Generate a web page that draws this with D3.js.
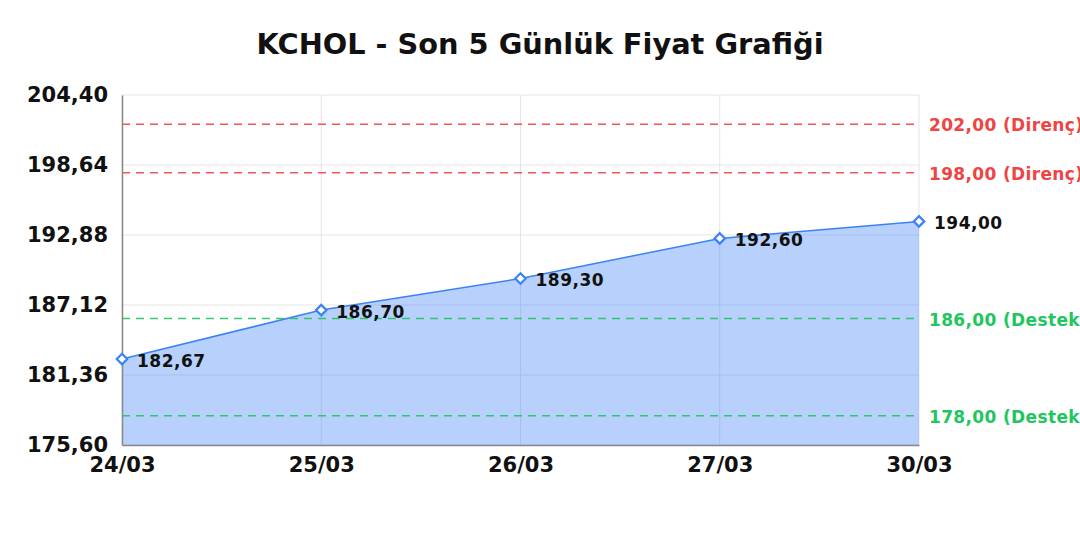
<!DOCTYPE html>
<html><head><meta charset="utf-8">
<script src="https://cdn.jsdelivr.net/npm/d3@7"></script>
<style>body{margin:0;background:#fff;}svg{display:block;font-family:"DejaVu Sans",sans-serif;}</style>
</head><body>
<svg id="c" width="1080" height="540"></svg>
<script>
const title = "KCHOL - Son 5 Günlük Fiyat Grafiği";
const dates = ["24/03","25/03","26/03","27/03","30/03"];
const prices = [182.67, 186.70, 189.30, 192.60, 194.00];
const yTicks = [175.60, 181.36, 187.12, 192.88, 198.64, 204.40];
const resistance = [202.00, 198.00];
const support = [186.00, 178.00];
const yDomain = [175.60, 204.40];

const svg = d3.select("#c");
const m = {l:122, r:919, t:95, b:445};
const x = d3.scalePoint().domain(dates).range([m.l, m.r]);
const y = d3.scaleLinear().domain(yDomain).range([m.b, m.t]);
const fmt = v => v.toFixed(2).replace(".", ",");

svg.append("text").attr("x",540).attr("y",54).attr("text-anchor","middle")
  .attr("font-size",28.8).attr("font-weight","bold").attr("fill","#111").text(title);

// grid
const g = svg.append("g");
g.selectAll(".hg").data(yTicks).join("line")
  .attr("x1",m.l).attr("x2",m.r).attr("y1",d=>y(d)).attr("y2",d=>y(d))
  .attr("stroke","#e5e5e5").attr("stroke-width",1);
g.selectAll(".vg").data(dates).join("line")
  .attr("x1",d=>x(d)).attr("x2",d=>x(d)).attr("y1",m.t).attr("y2",m.b)
  .attr("stroke","#e5e5e5").attr("stroke-width",1);

// area
const pts = dates.map((d,i)=>({d, v:prices[i]}));
svg.append("path").datum(pts)
  .attr("d", d3.area().x(p=>x(p.d)).y0(y(yDomain[0])).y1(p=>y(p.v)))
  .attr("fill","rgba(59,130,246,0.37)");
svg.append("path").datum(pts)
  .attr("d", d3.line().x(p=>x(p.d)).y(p=>y(p.v)))
  .attr("fill","none").attr("stroke","#3b82f6").attr("stroke-width",1.5);

// reference lines
const refs = resistance.map(v=>({v, c:"#ef4444", t:fmt(v)+" (Direnç)"}))
  .concat(support.map(v=>({v, c:"#22c55e", t:fmt(v)+" (Destek)"})));
svg.selectAll(".ref").data(refs).join("line")
  .attr("x1",m.l).attr("x2",m.r).attr("y1",d=>y(d.v)).attr("y2",d=>y(d.v))
  .attr("stroke",d=>d.c).attr("stroke-width",1.5).attr("stroke-dasharray","8,6").attr("opacity",0.9);
svg.selectAll(".reft").data(refs).join("text")
  .attr("x",m.r+10).attr("y",d=>y(d.v)+1).attr("dy","0.35em")
  .attr("font-size",17).attr("font-weight","bold").attr("letter-spacing",0.35)
  .attr("fill",d=>d.c).text(d=>d.t);

// axes
const ya = svg.append("g").attr("transform",`translate(${m.l},0)`)
  .call(d3.axisLeft(y).tickValues(yTicks).tickFormat(fmt).tickSize(0).tickPadding(14));
ya.select(".domain").attr("stroke","#888").attr("stroke-width",1.5);
ya.selectAll("text").attr("font-size",21).attr("font-weight","bold").attr("fill","#111")
  .attr("font-family","DejaVu Sans");
const xa = svg.append("g").attr("transform",`translate(0,${m.b})`)
  .call(d3.axisBottom(x).tickSize(0).tickPadding(12));
xa.select(".domain").attr("stroke","#888").attr("stroke-width",1.5);
xa.selectAll("text").attr("font-size",21).attr("font-weight","bold").attr("fill","#111")
  .attr("font-family","DejaVu Sans");

// markers
svg.selectAll(".mk").data(pts).join("path")
  .attr("d", d3.symbol().type(d3.symbolDiamond2).size(70))
  .attr("transform",p=>`translate(${x(p.d)},${y(p.v)})`)
  .attr("fill","#fff").attr("stroke","#3b82f6").attr("stroke-width",2.2);

// labels
svg.selectAll(".lb").data(pts).join("text")
  .attr("x",p=>x(p.d)+15).attr("y",p=>y(p.v)+2).attr("dy","0.35em")
  .attr("font-size",17).attr("font-weight","bold").attr("fill","#111")
  .attr("letter-spacing",0.5).text(p=>fmt(p.v));
</script>
</body></html>
